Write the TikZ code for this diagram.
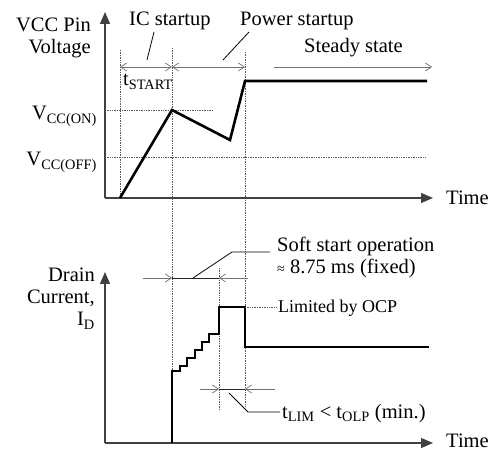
\documentclass[tikz,border=0pt]{standalone}
\usepackage{fontspec}
\setmainfont{Liberation Serif}
\usetikzlibrary{arrows.meta}
\begin{document}
\begin{tikzpicture}[x=1pt,y=-1pt,
  axis/.style={draw=black!75, line width=1.2pt, -{Triangle[length=12pt,width=10pt]}},
  guide/.style={draw=black!65, line width=0.7pt, densely dotted},
  dim/.style={draw=black!55, line width=0.7pt},
  barb/.style={-{Straight Barb[length=6pt,width=8pt]}},
  barbs/.style={{Straight Barb[length=6pt,width=8pt]}-{Straight Barb[length=6pt,width=8pt]}},
  sig/.style={line width=2.6pt, line join=miter},
  lead/.style={draw=black, line width=0.8pt},
  lbl/.style={font=\fontsize{20.5}{22}\selectfont, inner sep=0pt},
  sml/.style={font=\fontsize{18}{20}\selectfont, inner sep=0pt},
]
\useasboundingbox (0,0) rectangle (498,454);

% ---------- top chart ----------
\coordinate (o1) at (105,198);
\coordinate (ytop1) at (105,12);
\coordinate (xend1) at (433,198);
\draw[axis] (o1) -- (ytop1);
\draw[axis] (o1) -- (xend1);

% guides
\coordinate (g1a) at (120,50);  \coordinate (g1b) at (120,198);
\coordinate (g2a) at (172,48);  \coordinate (g2b) at (172,444);
\coordinate (g3a) at (245,52);  \coordinate (g3b) at (245,407);
\coordinate (g4a) at (219,268); \coordinate (g4b) at (219,410);
\draw[guide] (g1a) -- (g1b);
\draw[guide] (g2a) -- (g2b);
\draw[guide] (g3a) -- (g3b);
\draw[guide] (g4a) -- (g4b);
\coordinate (on1) at (105,110); \coordinate (on2) at (213,110);
\coordinate (off1) at (105,157); \coordinate (off2) at (425,157);
\draw[guide] (on1) -- (on2);
\draw[guide] (off1) -- (off2);

% voltage curve
\coordinate (v0) at (120,198);
\coordinate (v1) at (172,110);
\coordinate (v2) at (230,140);
\coordinate (v3) at (245,81);
\coordinate (v4) at (427,81);
\draw[sig] (v0) -- (v1) -- (v2) -- (v3) -- (v4);

% dimension arrows
\coordinate (d0) at (120,67); \coordinate (d1) at (172,67);
\coordinate (d2) at (245,67); \coordinate (d3) at (274,67); \coordinate (d4) at (432,67);
\draw[dim, barbs] (d0) -- (d1);
\draw[dim, barbs] (d1) -- (d2);
\draw[dim, barb] (d3) -- (d4);

% leaders top
\coordinate (l1a) at (154,32); \coordinate (l1b) at (147,60);
\coordinate (l2a) at (249,32); \coordinate (l2b) at (223,60);
\draw[lead] (l1a) -- (l1b);
\draw[lead] (l2a) -- (l2b);

% labels top
\node[lbl, anchor=base east] (vcc1) at (91,32) {VCC Pin};
\node[lbl, anchor=base east] (vcc2) at (91,54) {Voltage};
\node[lbl, anchor=base east] (von) at (97,120) {V\textsubscript{CC(ON)}};
\node[lbl, anchor=base east] (voff) at (97,166) {V\textsubscript{CC(OFF)}};
\node[lbl, anchor=base west] (tstart) at (123,86) {t\textsubscript{START}};
\node[lbl, anchor=base west] (ics) at (129,26) {IC startup};
\node[lbl, anchor=base west] (pws) at (240,26) {Power startup};
\node[lbl, anchor=base west] (sst) at (304,53) {Steady state};
\node[lbl, anchor=west] (time1) at (446,198) {Time};

% ---------- bottom chart ----------
\coordinate (o2) at (105,443);
\coordinate (ytop2) at (105,272);
\coordinate (xend2) at (433,443);
\draw[axis] (o2) -- (ytop2);
\draw[axis] (o2) -- (xend2);

% current curve
\draw[sig] (172,443) -- (172,371) -- (180,371) -- (180,366) -- (187,366) -- (187,358)
  -- (195,358) -- (195,350) -- (202,350) -- (202,342) -- (209,342) -- (209,334)
  -- (219,334) -- (219,307) -- (245,307) -- (245,347) -- (429,347);

% soft start dimension
\coordinate (s0) at (143,278); \coordinate (s1) at (172,278);
\coordinate (s2) at (219,278); \coordinate (s3) at (248,278);
\draw[dim, barb] (s0) -- (s1);
\draw[dim, barb] (s3) -- (s2);
\draw[draw=black!85, line width=0.8pt] (s1) -- (s2);
\coordinate (sl0) at (193,278); \coordinate (sl1) at (232,252); \coordinate (sl2) at (270,252);
\draw[lead] (sl0) -- (sl1) -- (sl2);
\node[lbl, anchor=base west] (soft1) at (277,252) {Soft start operation};
\node[lbl, anchor=base west] (soft2) at (277,274) {{\fontsize{14}{15}\selectfont ≈} 8.75 ms (fixed)};

% OCP
\coordinate (ocp0) at (245,307); \coordinate (ocp1) at (277,307);
\draw[guide] (ocp0) -- (ocp1);
\node[sml, anchor=west] (ocp) at (278,308) {Limited by OCP};

% tLIM dimension
\coordinate (t0) at (200,389); \coordinate (t1) at (219,389);
\coordinate (t2) at (245,389); \coordinate (t3) at (275,389);
\draw[dim, barb] (t0) -- (t1);
\draw[dim, barb] (t3) -- (t2);
\draw[draw=black!85, line width=0.8pt] (t1) -- (t2);
\coordinate (tl0) at (229,393); \coordinate (tl1) at (248,412); \coordinate (tl2) at (280,412);
\draw[lead] (tl0) -- (tl1) -- (tl2);
\node[lbl, anchor=base west] (tlim) at (282,418) {t\textsubscript{LIM} < t\textsubscript{OLP} (min.)};

\node[lbl, anchor=base east] (dr1) at (95,282) {Drain};
\node[lbl, anchor=base east] (dr2) at (95,304) {Current,};
\node[lbl, anchor=base east] (dr3) at (95,326) {I\textsubscript{D}};
\node[lbl, anchor=west] (time2) at (446,441) {Time};
\end{tikzpicture}
\end{document}
